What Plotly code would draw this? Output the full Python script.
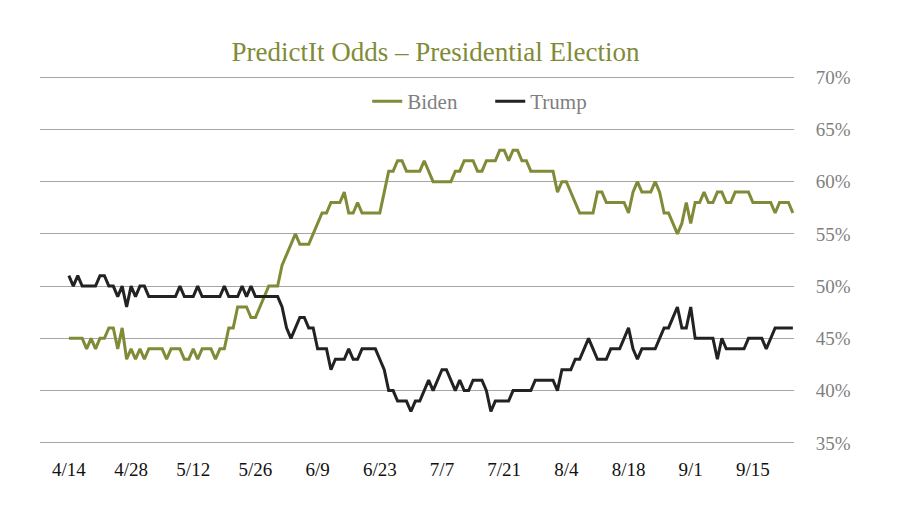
import pandas as pd
import plotly.graph_objects as go

# ---- data ----
start_date = "2020-04-14"
end_date = "2020-09-24"

biden = [
    45, 45, 45, 45, 44, 45, 44, 45, 45, 46,
    46, 44, 46, 43, 44, 43, 44, 43, 44, 44,
    44, 44, 43, 44, 44, 44, 43, 43, 44, 43,
    44, 44, 44, 43, 44, 44, 46, 46, 48, 48,
    48, 47, 47, 48, 49, 50, 50, 50, 52, 53,
    54, 55, 54, 54, 54, 55, 56, 57, 57, 58,
    58, 58, 59, 57, 57, 58, 57, 57, 57, 57,
    57, 59, 61, 61, 62, 62, 61, 61, 61, 61,
    62, 61, 60, 60, 60, 60, 60, 61, 61, 62,
    62, 62, 61, 61, 62, 62, 62, 63, 63, 62,
    63, 63, 62, 62, 61, 61, 61, 61, 61, 61,
    59, 60, 60, 59, 58, 57, 57, 57, 57, 59,
    59, 58, 58, 58, 58, 58, 57, 59, 60, 59,
    59, 59, 60, 59, 57, 57, 56, 55, 56, 58,
    56, 58, 58, 59, 58, 58, 59, 59, 58, 58,
    59, 59, 59, 59, 58, 58, 58, 58, 58, 57,
    58, 58, 58, 57,
]

trump = [
    51, 50, 51, 50, 50, 50, 50, 51, 51, 50,
    50, 49, 50, 48, 50, 49, 50, 50, 49, 49,
    49, 49, 49, 49, 49, 50, 49, 49, 49, 50,
    49, 49, 49, 49, 49, 50, 49, 49, 49, 50,
    49, 50, 49, 49, 49, 49, 49, 49, 48, 46,
    45, 46, 47, 47, 46, 46, 44, 44, 44, 42,
    43, 43, 43, 44, 43, 43, 44, 44, 44, 44,
    43, 42, 40, 40, 39, 39, 39, 38, 39, 39,
    40, 41, 40, 41, 42, 42, 41, 40, 41, 40,
    40, 41, 41, 41, 40, 38, 39, 39, 39, 39,
    40, 40, 40, 40, 40, 41, 41, 41, 41, 41,
    40, 42, 42, 42, 43, 43, 44, 45, 44, 43,
    43, 43, 44, 44, 44, 45, 46, 44, 43, 44,
    44, 44, 44, 45, 46, 46, 47, 48, 46, 46,
    48, 45, 45, 45, 45, 45, 43, 45, 44, 44,
    44, 44, 44, 45, 45, 45, 45, 44, 45, 46,
    46, 46, 46, 46,
]

x_tick_dates = ["2020-04-14", "2020-04-28", "2020-05-12", "2020-05-26",
                "2020-06-09", "2020-06-23", "2020-07-07", "2020-07-21",
                "2020-08-04", "2020-08-18", "2020-09-01", "2020-09-15"]
x_tick_labels = ["4/14", "4/28", "5/12", "5/26", "6/9", "6/23", "7/7",
                 "7/21", "8/4", "8/18", "9/1", "9/15"]
y_tick_vals = [35, 40, 45, 50, 55, 60, 65, 70]
y_tick_labels = ["35%", "40%", "45%", "50%", "55%", "60%", "65%", "70%"]

dates = pd.date_range(start_date, end_date, freq="D")

OLIVE = "#818a37"
DARK = "#222222"
SERIF = "Liberation Serif"

# figure is 892x522 because the page body adds an 8px margin
W, H = 892, 522

fig = go.Figure()
fig.add_trace(go.Scatter(x=dates, y=biden, mode="lines", name="Biden",
                         line=dict(color=OLIVE, width=3)))
fig.add_trace(go.Scatter(x=dates, y=trump, mode="lines", name="Trump",
                         line=dict(color=DARK, width=3)))

fig.update_layout(
    width=W, height=H,
    margin=dict(l=32, r=106, t=66, b=84),
    paper_bgcolor="white", plot_bgcolor="white",
    title=dict(text="PredictIt Odds – Presidential Election",
               x=427.5 / W, xref="container", xanchor="center",
               y=1 - 44 / H, yref="container", yanchor="middle",
               font=dict(family=SERIF, size=27, color=OLIVE)),
    legend=dict(orientation="h", x=0.434, xanchor="left",
                y=0.926, yanchor="middle", bgcolor="rgba(0,0,0,0)",
                entrywidth=78, entrywidthmode="pixels",
                font=dict(family=SERIF, size=21, color="#7f7f7f")),
    showlegend=True,
    hovermode=False,
)

fig.update_xaxes(
    range=["2020-04-07 12:00", "2020-09-24 06:00"],
    tickvals=x_tick_dates, ticktext=x_tick_labels,
    showgrid=False, zeroline=False, showline=False,
    ticks="outside", ticklen=6, tickcolor="rgba(0,0,0,0)",
    tickfont=dict(family=SERIF, size=19, color="#111111"),
)

fig.update_yaxes(
    range=[34.7, 70.3], side="right",
    tickvals=y_tick_vals, ticktext=y_tick_labels,
    showgrid=True, gridcolor="#a6a6a6", gridwidth=1,
    zeroline=False, showline=False,
    ticks="outside", ticklen=17, tickcolor="rgba(0,0,0,0)",
    tickfont=dict(family=SERIF, size=19, color="#7f7f7f"),
)

fig.write_html("out.html")
